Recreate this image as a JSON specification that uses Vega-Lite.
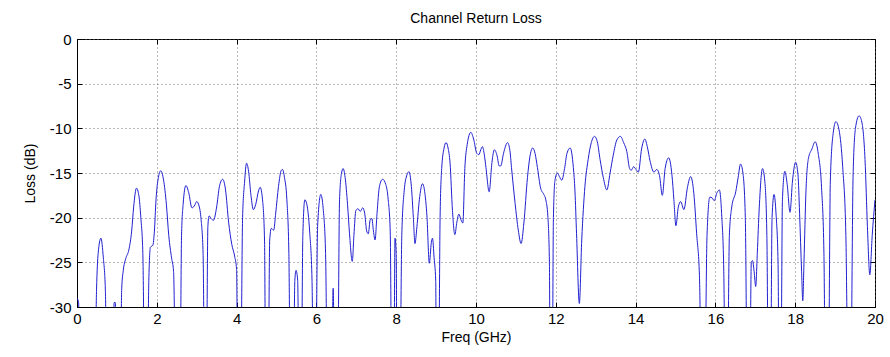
{
  "$schema": "https://vega.github.io/schema/vega-lite/v6.json",
  "autosize": {"type": "none"},
  "padding": {"left": 77, "top": 39, "right": 15, "bottom": 50},
  "width": 798,
  "height": 268,
  "background": "white",
  "title": {"text": "Channel Return Loss", "font": "Liberation Sans", "fontSize": 14, "fontWeight": "normal", "color": "black", "offset": 6},
  "config": {
    "view": {"stroke": "black", "strokeWidth": 1},
    "axis": {"labelFont": "Liberation Sans", "titleFont": "Liberation Sans", "labelFontSize": 15, "titleFontSize": 14, "titleFontWeight": "normal", "labelColor": "black", "titleColor": "black", "domainColor": "black", "tickColor": "black", "gridColor": "#666666", "gridDash": [1, 3], "gridOpacity": 0.9, "tickSize": -5, "labelExpr": "'' + datum.value"}
  },
  "data": {"values": [
    {"f":0.00,"l":-29.0},{"f":0.04,"l":-29.5},{"f":0.08,"l":-40},{"f":0.44,"l":-40},{"f":0.49,"l":-28},{"f":0.53,"l":-24},{"f":0.60,"l":-22.3},{"f":0.66,"l":-24.5},{"f":0.71,"l":-28},{"f":0.76,"l":-40},
    {"f":0.90,"l":-40},{"f":0.93,"l":-29.5},{"f":0.96,"l":-29.5},{"f":0.99,"l":-40},{"f":1.08,"l":-40},{"f":1.12,"l":-28},{"f":1.16,"l":-25.9},{"f":1.22,"l":-24.6},{"f":1.30,"l":-23.6},{"f":1.37,"l":-21.5},
    {"f":1.42,"l":-18.8},{"f":1.49,"l":-16.7},{"f":1.55,"l":-17.5},{"f":1.60,"l":-20},{"f":1.65,"l":-24},{"f":1.70,"l":-40},{"f":1.76,"l":-40},{"f":1.80,"l":-27},{"f":1.84,"l":-23.3},{"f":1.90,"l":-23.1},
    {"f":1.94,"l":-21.5},{"f":1.98,"l":-18},{"f":2.04,"l":-15.5},{"f":2.10,"l":-14.75},{"f":2.17,"l":-15.8},{"f":2.24,"l":-18.5},{"f":2.30,"l":-22},{"f":2.37,"l":-24.5},{"f":2.42,"l":-26},{"f":2.48,"l":-40},
    {"f":2.58,"l":-40},{"f":2.62,"l":-22},{"f":2.66,"l":-18.5},{"f":2.73,"l":-16.4},{"f":2.80,"l":-17.2},{"f":2.88,"l":-18.9},{"f":2.94,"l":-18.7},{"f":3.00,"l":-18.2},{"f":3.06,"l":-18.7},{"f":3.11,"l":-20.2},
    {"f":3.16,"l":-24},{"f":3.20,"l":-40},{"f":3.24,"l":-40},{"f":3.28,"l":-21},{"f":3.31,"l":-19.8},{"f":3.36,"l":-20.1},{"f":3.42,"l":-20.3},{"f":3.50,"l":-18.8},{"f":3.57,"l":-16.5},{"f":3.65,"l":-15.7},
    {"f":3.72,"l":-16.8},{"f":3.80,"l":-20.5},{"f":3.88,"l":-23},{"f":3.95,"l":-24.3},{"f":4.00,"l":-25.8},{"f":4.03,"l":-40},{"f":4.10,"l":-40},{"f":4.15,"l":-20},{"f":4.20,"l":-16},{"f":4.25,"l":-13.9},
    {"f":4.30,"l":-14.8},{"f":4.36,"l":-17.5},{"f":4.42,"l":-19.1},{"f":4.48,"l":-18.5},{"f":4.55,"l":-17},{"f":4.59,"l":-16.6},{"f":4.65,"l":-18},{"f":4.70,"l":-22.5},{"f":4.73,"l":-40},{"f":4.79,"l":-40},
    {"f":4.83,"l":-22.5},{"f":4.87,"l":-21.2},{"f":4.93,"l":-21.4},{"f":4.98,"l":-19.5},{"f":5.05,"l":-16.5},{"f":5.12,"l":-14.7},{"f":5.15,"l":-14.6},{"f":5.20,"l":-15.5},{"f":5.26,"l":-18},{"f":5.31,"l":-24},
    {"f":5.35,"l":-40},{"f":5.42,"l":-40},{"f":5.46,"l":-27},{"f":5.49,"l":-25.9},{"f":5.53,"l":-27},{"f":5.57,"l":-40},{"f":5.62,"l":-40},{"f":5.66,"l":-22},{"f":5.71,"l":-18},{"f":5.76,"l":-18.5},
    {"f":5.83,"l":-21.5},{"f":5.89,"l":-27},{"f":5.93,"l":-40},{"f":5.98,"l":-40},{"f":6.03,"l":-21},{"f":6.11,"l":-17.4},{"f":6.17,"l":-19},{"f":6.23,"l":-24},{"f":6.28,"l":-40},{"f":6.38,"l":-40},
    {"f":6.42,"l":-27.9},{"f":6.46,"l":-40},{"f":6.53,"l":-40},{"f":6.58,"l":-18},{"f":6.63,"l":-15},{"f":6.67,"l":-14.5},{"f":6.72,"l":-15.5},{"f":6.78,"l":-18.5},{"f":6.83,"l":-21.8},{"f":6.90,"l":-24.9},
    {"f":6.94,"l":-22},{"f":6.99,"l":-19.2},{"f":7.04,"l":-19.0},{"f":7.10,"l":-19.3},{"f":7.16,"l":-18.9},{"f":7.21,"l":-19.5},{"f":7.26,"l":-21.5},{"f":7.30,"l":-21.8},{"f":7.35,"l":-20.2},{"f":7.39,"l":-20.1},
    {"f":7.43,"l":-21.5},{"f":7.47,"l":-22.5},{"f":7.52,"l":-19.5},{"f":7.58,"l":-16.5},{"f":7.66,"l":-15.7},{"f":7.74,"l":-16.3},{"f":7.80,"l":-18},{"f":7.85,"l":-21.5},{"f":7.89,"l":-40},{"f":7.94,"l":-40},
    {"f":7.97,"l":-22.3},{"f":8.00,"l":-24},{"f":8.02,"l":-40},{"f":8.09,"l":-40},{"f":8.14,"l":-22},{"f":8.20,"l":-17},{"f":8.27,"l":-15.2},{"f":8.32,"l":-14.85},{"f":8.38,"l":-16.5},{"f":8.43,"l":-20},
    {"f":8.47,"l":-22.9},{"f":8.52,"l":-21},{"f":8.58,"l":-18},{"f":8.66,"l":-16.2},{"f":8.72,"l":-17.3},{"f":8.77,"l":-19.8},{"f":8.83,"l":-25.1},{"f":8.88,"l":-22.8},{"f":8.91,"l":-22.3},{"f":8.95,"l":-24.5},
    {"f":8.99,"l":-27},{"f":9.01,"l":-40},{"f":9.06,"l":-40},{"f":9.10,"l":-20},{"f":9.14,"l":-14.5},{"f":9.20,"l":-12.2},{"f":9.25,"l":-11.6},{"f":9.30,"l":-12.2},{"f":9.35,"l":-13.9},{"f":9.41,"l":-19.2},
    {"f":9.47,"l":-21.9},{"f":9.52,"l":-20.5},{"f":9.57,"l":-19.6},{"f":9.62,"l":-20.2},{"f":9.67,"l":-20.6},{"f":9.72,"l":-14.5},{"f":9.78,"l":-11.8},{"f":9.87,"l":-10.45},{"f":9.94,"l":-11.2},{"f":10.02,"l":-12.8},
    {"f":10.07,"l":-12.95},{"f":10.12,"l":-12.4},{"f":10.16,"l":-12.05},{"f":10.21,"l":-13.0},{"f":10.25,"l":-14.4},{"f":10.33,"l":-17.1},{"f":10.40,"l":-13.8},{"f":10.46,"l":-12.4},{"f":10.53,"l":-13.1},{"f":10.58,"l":-14.2},
    {"f":10.62,"l":-14.2},{"f":10.69,"l":-12.8},{"f":10.79,"l":-11.6},{"f":10.85,"l":-12.5},{"f":10.89,"l":-14.4},{"f":10.98,"l":-18.4},{"f":11.06,"l":-21.4},{"f":11.13,"l":-22.9},{"f":11.20,"l":-20.6},{"f":11.29,"l":-15.5},
    {"f":11.35,"l":-13.2},{"f":11.42,"l":-12.2},{"f":11.48,"l":-12.8},{"f":11.54,"l":-14.4},{"f":11.62,"l":-16.7},{"f":11.70,"l":-17.4},{"f":11.75,"l":-18},{"f":11.80,"l":-19.8},{"f":11.84,"l":-25},{"f":11.86,"l":-40},
    {"f":11.91,"l":-40},{"f":11.94,"l":-20},{"f":11.98,"l":-15.8},{"f":12.04,"l":-15.0},{"f":12.09,"l":-15.4},{"f":12.15,"l":-15.8},{"f":12.22,"l":-14.5},{"f":12.28,"l":-12.8},{"f":12.36,"l":-12.2},{"f":12.44,"l":-14.4},
    {"f":12.48,"l":-17},{"f":12.52,"l":-21.8},{"f":12.59,"l":-29.6},{"f":12.65,"l":-22.5},{"f":12.69,"l":-19.1},{"f":12.73,"l":-16.5},{"f":12.81,"l":-13.5},{"f":12.89,"l":-11.6},{"f":12.97,"l":-10.9},{"f":13.04,"l":-11.5},
    {"f":13.11,"l":-13.5},{"f":13.19,"l":-15.5},{"f":13.28,"l":-16.9},{"f":13.36,"l":-15},{"f":13.44,"l":-13},{"f":13.53,"l":-11.3},{"f":13.62,"l":-10.9},{"f":13.70,"l":-11.6},{"f":13.78,"l":-12.6},{"f":13.85,"l":-14.5},
    {"f":13.89,"l":-14.7},{"f":13.95,"l":-14.3},{"f":14.01,"l":-14.6},{"f":14.07,"l":-14.9},{"f":14.15,"l":-12.3},{"f":14.23,"l":-11.2},{"f":14.30,"l":-12.2},{"f":14.36,"l":-13.6},{"f":14.46,"l":-14.9},{"f":14.53,"l":-14.6},
    {"f":14.60,"l":-15.3},{"f":14.67,"l":-17.5},{"f":14.74,"l":-14.5},{"f":14.83,"l":-13.3},{"f":14.91,"l":-15.2},{"f":14.96,"l":-18},{"f":15.01,"l":-20.9},{"f":15.07,"l":-18.8},{"f":15.13,"l":-18.2},{"f":15.21,"l":-19.1},
    {"f":15.30,"l":-16.6},{"f":15.38,"l":-15.4},{"f":15.46,"l":-17.3},{"f":15.53,"l":-21.8},{"f":15.60,"l":-26.5},{"f":15.66,"l":-40},{"f":15.73,"l":-40},{"f":15.79,"l":-22},{"f":15.86,"l":-17.7},{"f":15.92,"l":-17.8},
    {"f":15.97,"l":-18.1},{"f":16.04,"l":-17.2},{"f":16.10,"l":-16.9},{"f":16.16,"l":-19.9},{"f":16.21,"l":-26},{"f":16.25,"l":-40},{"f":16.30,"l":-40},{"f":16.35,"l":-22},{"f":16.41,"l":-18.8},{"f":16.51,"l":-17.1},
    {"f":16.57,"l":-15.5},{"f":16.63,"l":-14.0},{"f":16.69,"l":-15},{"f":16.75,"l":-20},{"f":16.80,"l":-40},{"f":16.86,"l":-40},{"f":16.90,"l":-25},{"f":16.93,"l":-24.8},{"f":16.97,"l":-26},{"f":17.01,"l":-27.7},
    {"f":17.05,"l":-24},{"f":17.10,"l":-18.8},{"f":17.18,"l":-14.5},{"f":17.24,"l":-16},{"f":17.29,"l":-22},{"f":17.33,"l":-40},{"f":17.38,"l":-40},{"f":17.42,"l":-20},{"f":17.47,"l":-17.4},{"f":17.52,"l":-19.6},
    {"f":17.57,"l":-25},{"f":17.60,"l":-40},{"f":17.64,"l":-40},{"f":17.68,"l":-18},{"f":17.74,"l":-14.8},{"f":17.80,"l":-16.3},{"f":17.87,"l":-19.4},{"f":17.93,"l":-16},{"f":18.01,"l":-13.8},{"f":18.07,"l":-15.2},
    {"f":18.11,"l":-19.5},{"f":18.16,"l":-26},{"f":18.19,"l":-29.3},{"f":18.22,"l":-25},{"f":18.27,"l":-17},{"f":18.33,"l":-13.4},{"f":18.42,"l":-12.3},{"f":18.50,"l":-11.5},{"f":18.58,"l":-12.9},{"f":18.66,"l":-16.6},
    {"f":18.72,"l":-24},{"f":18.76,"l":-40},{"f":18.83,"l":-40},{"f":18.88,"l":-16},{"f":18.95,"l":-10.6},{"f":19.02,"l":-9.25},{"f":19.10,"l":-10.2},{"f":19.19,"l":-14.3},{"f":19.27,"l":-22},{"f":19.33,"l":-40},
    {"f":19.39,"l":-40},{"f":19.45,"l":-15.5},{"f":19.51,"l":-10},{"f":19.60,"l":-8.6},{"f":19.67,"l":-9.3},{"f":19.75,"l":-13.5},{"f":19.81,"l":-21},{"f":19.87,"l":-26.4},{"f":19.93,"l":-22},{"f":20.00,"l":-18.0}
  ]},
  "layer": [
    {
      "mark": {"type": "line", "clip": true, "color": "#2020d0", "strokeWidth": 1, "interpolate": "monotone"},
      "encoding": {
        "x": {"field": "f", "type": "quantitative", "scale": {"domain": [0, 20], "nice": false}, "axis": {"title": "Freq (GHz)", "values": [0,2,4,6,8,10,12,14,16,18,20], "labelPadding": 9, "titlePadding": 4, "labelFlush": false}},
        "y": {"field": "l", "type": "quantitative", "scale": {"domain": [-30, 0], "nice": false, "zero": false}, "axis": {"title": "Loss (dB)", "values": [-30,-25,-20,-15,-10,-5,0], "labelPadding": 11, "titlePadding": 12}}
      }
    },
    {
      "mark": {"type": "line", "clip": true, "opacity": 0, "interpolate": "monotone"},
      "encoding": {
        "x": {"field": "f", "type": "quantitative", "axis": {"orient": "top", "title": null, "labels": false, "grid": false, "domain": false, "values": [0,2,4,6,8,10,12,14,16,18,20]}},
        "y": {"field": "l", "type": "quantitative", "axis": {"orient": "right", "title": null, "labels": false, "grid": false, "domain": false, "values": [-30,-25,-20,-15,-10,-5,0]}}
      }
    }
  ],
  "resolve": {"axis": {"x": "independent", "y": "independent"}}
}
